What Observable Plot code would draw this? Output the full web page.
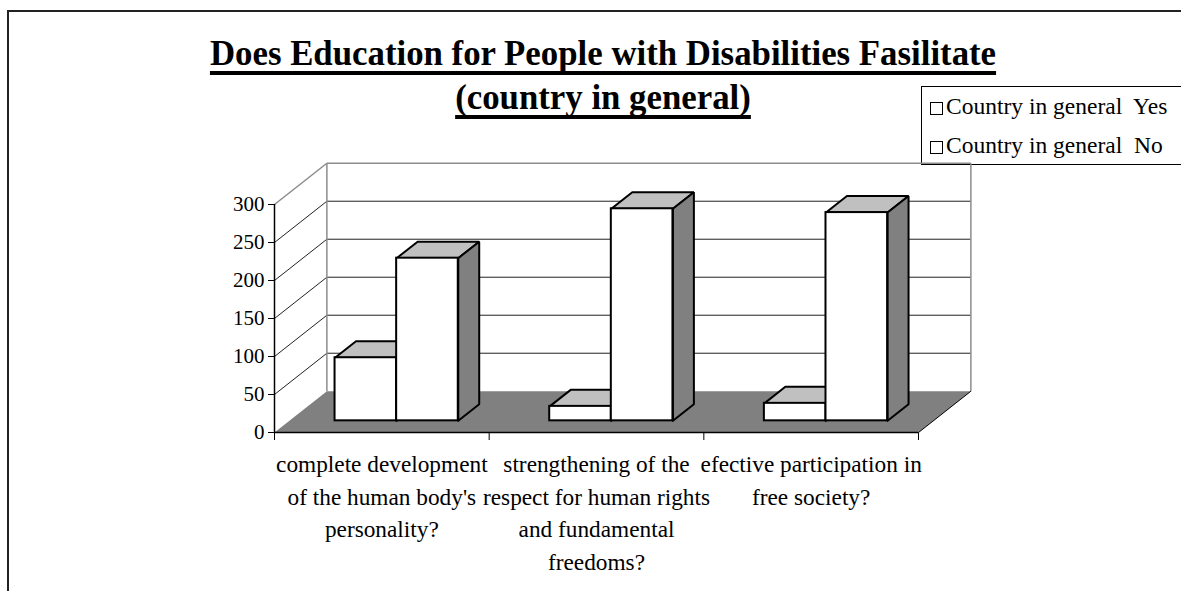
<!DOCTYPE html>
<html>
<head>
<meta charset="utf-8">
<script src="https://cdn.jsdelivr.net/npm/d3@7"></script>
<script src="https://cdn.jsdelivr.net/npm/@observablehq/plot@0.6"></script>
<style>
  html, body { margin: 0; padding: 0; background: #fff; }
  #page { position: relative; width: 1181px; height: 591px; overflow: hidden; background: #fff; font-family: "Liberation Serif", "Times New Roman", serif; color: #000; }
  #frame { position: absolute; left: 7px; top: 10px; right: -5px; bottom: -5px; border-left: 2px solid #222; border-top: 2px solid #222; }
  #title { position: absolute; left: 103px; width: 1000px; top: 32px; text-align: center; font-weight: bold; font-size: 34.8px; line-height: 44px; }
  #title span { text-decoration: underline; text-decoration-thickness: 3.5px; text-underline-offset: 6px; text-decoration-skip-ink: none; }
  #legend { position: absolute; left: 921px; top: 86px; width: 300px; height: 79px; border: 1px solid #000; font-size: 23.5px; line-height: 39px; box-sizing: border-box; padding-left: 8px; white-space: pre; }
  #legend .sw { display: inline-block; width: 11px; height: 11px; border: 1.5px solid #000; margin-right: 3px; vertical-align: -1px; background: #fff; }
  #chart { position: absolute; left: 0; top: 140px; }
  #chart svg text { font-family: "Liberation Serif", "Times New Roman", serif; }
</style>
</head>
<body>
<div id="page">
  <div id="frame"></div>
  <div id="title"></div>
  <div id="legend"></div>
  <div id="chart"></div>
</div>
<script>
// ---- data ----
const titleLines = ["Does Education for People with Disabilities Fasilitate", "(country in general)"];
const categories = [
  "complete development\nof the human body's\npersonality?",
  "strengthening of the\nrespect for human rights\nand fundamental\nfreedoms?",
  "efective participation in\nfree society?"
];
const seriesNames = ["Country in general  Yes", "Country in general  No"];
const yesValues = [83, 19, 23];
const noValues = [214, 279, 274];
const yTicks = [0, 50, 100, 150, 200, 250, 300];
const wallLines = [50, 100, 150, 200, 250];

// ---- title & legend ----
document.getElementById("title").innerHTML = titleLines.map(t => `<span>${t}</span>`).join("<br>");
document.getElementById("legend").innerHTML = seriesNames.map(n => `<div><span class="sw"></span>${n}</div>`).join("");

// ---- 3D projection helpers (depth expressed in scale units) ----
const DX = 0.244;   // floor depth along x (category units)
const DY = 54.3;    // floor depth along y (value units)
const D0 = 0.283;   // bar front plane depth fraction
const BD = 0.40;    // bar depth fraction
const offsets = [0.213, 0.5, 0.787];
const yMax = yTicks[yTicks.length - 1];
const nCat = categories.length;

function P(x, v, d) { return {x: x + d * DX, y: v + d * DY}; }

function barGeom(values, s) {
  const fronts = [], tops = [], sides = [];
  values.forEach((v, i) => {
    const xa = i + offsets[s], xb = i + offsets[s + 1];
    const a = P(xa, 0, D0), b = P(xb, v, D0);
    fronts.push({x1: a.x, x2: b.x, y1: a.y, y2: b.y});
    const id = s + "-" + i;
    [P(xa, v, D0), P(xb, v, D0), P(xb, v, D0 + BD), P(xa, v, D0 + BD), P(xa, v, D0)]
      .forEach(p => tops.push({...p, id}));
    [P(xb, 0, D0), P(xb, v, D0), P(xb, v, D0 + BD), P(xb, 0, D0 + BD), P(xb, 0, D0)]
      .forEach(p => sides.push({...p, id}));
  });
  return {fronts, tops, sides};
}

const yes = barGeom(yesValues, 0);
const no = barGeom(noValues, 1);

const floor = [P(0, 0, 0), P(nCat, 0, 0), P(nCat, 0, 1), P(0, 0, 1), P(0, 0, 0)];
const backGrid = wallLines.map(v => { const a = P(0, v, 1), b = P(nCat, v, 1); return {x1: a.x, y1: a.y, x2: b.x, y2: b.y}; });
const sideGrid = wallLines.map(v => { const a = P(0, v, 0), b = P(0, v, 1); return {x1: a.x, y1: a.y, x2: b.x, y2: b.y}; });
const edge = (p, q) => ({x1: p.x, y1: p.y, x2: q.x, y2: q.y});
const wallEdges = [
  edge(P(0, yMax, 0), P(0, yMax, 1)),
  edge(P(0, yMax, 1), P(nCat, yMax, 1)),
  edge(P(0, 0, 1), P(0, yMax, 1)),
  edge(P(nCat, 0, 1), P(nCat, yMax, 1))
];
const floorEdge = [edge(P(nCat, 0, 0), P(nCat, 0, 1))];
const labels = categories.map((c, i) => ({x: i + 0.5, label: c}));

const faceOpts = (fill) => ({x: "x", y: "y", z: "id", fill, stroke: "#000", strokeWidth: 2, strokeLinejoin: "miter", curve: "linear"});

const chart = Plot.plot({
  width: 1181,
  height: 451,
  marginLeft: 274,
  marginRight: 263,
  marginTop: 64,
  marginBottom: 159,
  style: {fontFamily: "'Liberation Serif', 'Times New Roman', serif", fontSize: "21px", color: "#000", background: "transparent", overflow: "visible"},
  x: {type: "linear", domain: [0, nCat], ticks: [0, 1, 2, 3], tickFormat: () => "", tickSize: 8, label: null},
  y: {domain: [0, yMax], ticks: yTicks, tickSize: 6, tickPadding: 4, label: null},
  marks: [
    Plot.line(floor, {x: "x", y: "y", fill: "#808080", stroke: "none"}),
    Plot.link(backGrid, {x1: "x1", y1: "y1", x2: "x2", y2: "y2", stroke: "#222", strokeWidth: 1}),
    Plot.link(sideGrid, {x1: "x1", y1: "y1", x2: "x2", y2: "y2", stroke: "#222", strokeWidth: 1}),
    Plot.link(wallEdges, {x1: "x1", y1: "y1", x2: "x2", y2: "y2", stroke: "#8c8c8c", strokeWidth: 1.5}),
    Plot.link(floorEdge, {x1: "x1", y1: "y1", x2: "x2", y2: "y2", stroke: "#000", strokeWidth: 1}),
    Plot.line(yes.tops, faceOpts("#c0c0c0")),
    Plot.line(yes.sides, faceOpts("#808080")),
    Plot.rect(yes.fronts, {x1: "x1", x2: "x2", y1: "y1", y2: "y2", fill: "#fff", stroke: "#000", strokeWidth: 2}),
    Plot.line(no.tops, faceOpts("#c0c0c0")),
    Plot.line(no.sides, faceOpts("#808080")),
    Plot.rect(no.fronts, {x1: "x1", x2: "x2", y1: "y1", y2: "y2", fill: "#fff", stroke: "#000", strokeWidth: 2}),
    Plot.ruleX([0], {y1: 0, y2: yMax, stroke: "#000", strokeWidth: 1.5}),
    Plot.ruleY([0], {x1: 0, x2: nCat, stroke: "#000", strokeWidth: 1.5}),
    Plot.text(labels, {x: "x", text: "label", frameAnchor: "bottom", lineAnchor: "top", dy: 17, fontSize: 23.3, lineHeight: 1.39, fill: "#000"})
  ]
});
document.getElementById("chart").appendChild(chart);
</script>
</body>
</html>
